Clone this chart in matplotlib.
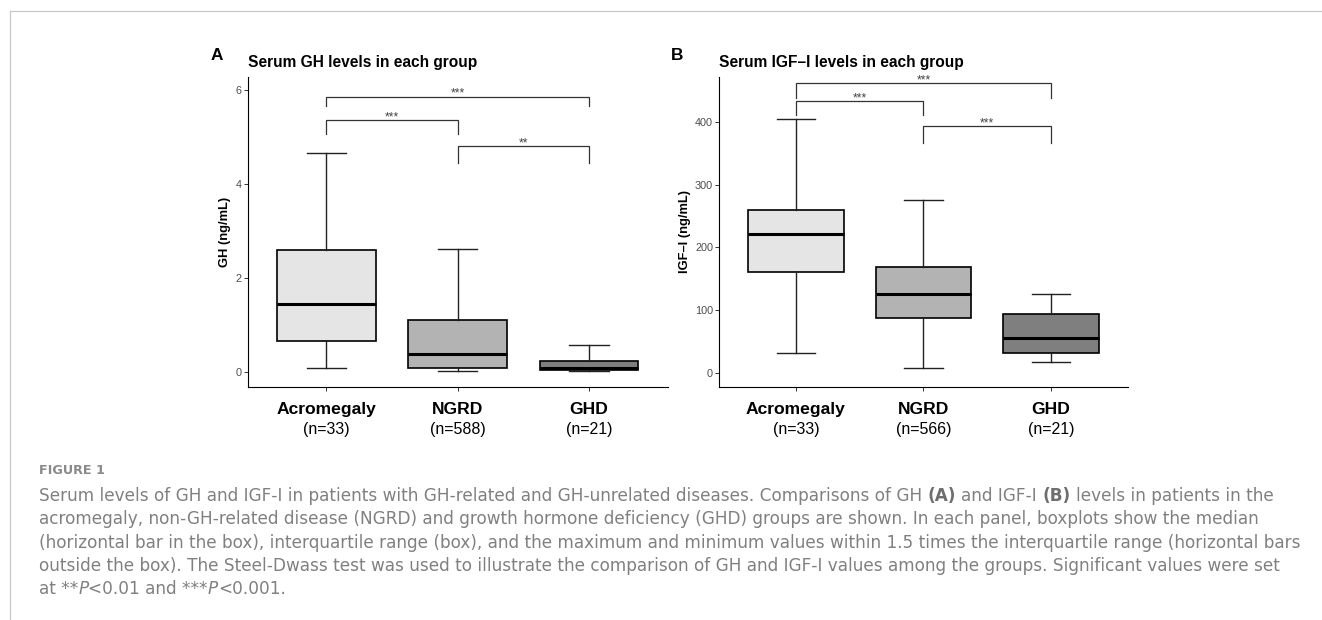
import matplotlib
matplotlib.use("Agg")
import matplotlib.pyplot as plt
from matplotlib.lines import Line2D
from matplotlib.transforms import blended_transform_factory

# ---- data ----
groups = ["Acromegaly", "NGRD", "GHD"]
gh_n = [33, 588, 21]
igf_n = [33, 566, 21]

gh_whislo = [0.09, 0.015, 0.02]
gh_q1 = [0.67, 0.09, 0.035]
gh_med = [1.44, 0.38, 0.08]
gh_q3 = [2.59, 1.11, 0.24]
gh_whishi = [4.65, 2.62, 0.57]

igf_whislo = [32, 7, 17]
igf_q1 = [160, 88, 31]
igf_med = [221, 125, 56]
igf_q3 = [259, 169, 94]
igf_whishi = [405, 276, 125]

# significance brackets: (group i, group j), bar height, tip height, label
gh_pairs = [(0, 2), (0, 1), (1, 2)]
gh_bar_y = [5.86, 5.36, 4.80]
gh_tip_y = [5.65, 5.06, 4.44]
gh_stars = ["***", "***", "**"]

igf_pairs = [(0, 2), (0, 1), (1, 2)]
igf_bar_y = [462, 433, 393]
igf_tip_y = [438, 411, 366]
igf_stars = ["***", "***", "***"]

fills = ["#E5E5E5", "#B3B3B3", "#7F7F7F"]

W, H = 1322, 620
FONT = "Liberation Sans"
CAP_FONT = "DejaVu Sans"

fig = plt.figure(figsize=(W / 100, H / 100), dpi=100)


def px(x, y):
    # pixel position (from top-left) -> figure fraction
    return x / W, 1 - y / H


def boxpanel(rect, whislo, q1, med, q3, whishi, counts, ylim, yticks,
             pairs, bar_y, tip_y, stars, ylabel, label_x):
    ax = fig.add_axes(rect)
    stats = []
    for i in range(len(groups)):
        stats.append(dict(whislo=whislo[i], q1=q1[i], med=med[i], q3=q3[i],
                          whishi=whishi[i], fliers=[], label=groups[i]))
    pos = list(range(1, len(groups) + 1))
    bp = ax.bxp(stats, positions=pos, widths=0.75, capwidths=0.3,
                patch_artist=True, showfliers=False,
                boxprops=dict(linewidth=1.2, edgecolor="black"),
                medianprops=dict(linewidth=2.2, color="black", solid_capstyle="butt"),
                whiskerprops=dict(linewidth=1.0, color="#222222"),
                capprops=dict(linewidth=1.0, color="#222222"))
    for patch, c in zip(bp["boxes"], fills):
        patch.set_facecolor(c)

    # brackets
    for (i, j), by, ty, s in zip(pairs, bar_y, tip_y, stars):
        xi, xj = pos[i], pos[j]
        ax.plot([xi, xi, xj, xj], [ty, by, by, ty], color="#333333",
                linewidth=0.9, solid_joinstyle="miter")
        ax.text((xi + xj) / 2, by, s, ha="center", va="baseline",
                fontsize=8.8, color="#444444", family=FONT)

    ax.set_xlim(0.4, 3.6)
    ax.set_ylim(*ylim)
    ax.set_yticks(yticks)
    ax.set_xticks(pos)
    ax.set_xticklabels([""] * len(groups))
    for side in ("top", "right"):
        ax.spines[side].set_visible(False)
    for side in ("left", "bottom"):
        ax.spines[side].set_linewidth(0.8)
        ax.spines[side].set_color("black")
    ax.tick_params(length=3, width=0.7, color="#333333", pad=1.5,
                   labelsize=7.8, labelcolor="#4D4D4D")
    for t in ax.get_yticklabels():
        t.set_family(FONT)
    ax.set_ylabel(ylabel, fontsize=9.3, fontweight="bold", family=FONT,
                  va="center")
    ax.yaxis.set_label_coords(label_x, 0.5)

    tr = blended_transform_factory(ax.transData, fig.transFigure)
    for p, g, n in zip(pos, groups, counts):
        ax.text(p, px(0, 414.3)[1], g, transform=tr, ha="center", va="baseline",
                fontsize=12.6, fontweight="bold", family=FONT)
        ax.text(p, px(0, 434)[1], f"(n={n})", transform=tr, ha="center",
                va="baseline", fontsize=11.5, family=FONT)
    return ax


axA = boxpanel([247.7 / W, 1 - 386.7 / H, 420 / W, 310 / H],
               gh_whislo, gh_q1, gh_med, gh_q3, gh_whishi, gh_n,
               (-0.313, 6.283), [0, 2, 4, 6],
               gh_pairs, gh_bar_y, gh_tip_y, gh_stars,
               "GH (ng/mL)", (225 - 247.7) / 420)
axB = boxpanel([719.3 / W, 1 - 386.7 / H, 408.4 / W, 310 / H],
               igf_whislo, igf_q1, igf_med, igf_q3, igf_whishi, igf_n,
               (-22.3, 472.3), [0, 100, 200, 300, 400],
               igf_pairs, igf_bar_y, igf_tip_y, igf_stars,
               "IGF\u2013I (ng/mL)", (685 - 719.3) / 408.4)

# panel letters and titles
fig.text(*px(210.7, 60), "A", fontsize=12.4, fontweight="bold", family=FONT,
         va="baseline", ha="left")
fig.text(*px(670.7, 59.5), "B", fontsize=12.4, fontweight="bold", family=FONT,
         va="baseline", ha="left")
fig.text(*px(247.7, 67.5), "Serum GH levels in each group", fontsize=11.2,
         fontweight="bold", family=FONT, va="baseline", ha="left")
fig.text(*px(719.3, 67.5), "Serum IGF\u2013I levels in each group", fontsize=11.2,
         fontweight="bold", family=FONT, va="baseline", ha="left")

# frame lines of the figure box
fig.add_artist(Line2D([9.7 / W, 1], [1 - 11 / H, 1 - 11 / H], color="#C8C8C8",
                      linewidth=0.9, transform=fig.transFigure))
fig.add_artist(Line2D([9.7 / W, 9.7 / W], [0, 1 - 11 / H], color="#C8C8C8",
                      linewidth=0.9, transform=fig.transFigure))

# caption
cap_ax = fig.add_axes([0, 0, 1, 1])
cap_ax.axis("off")
CAP_SIZE = 12.2
CAP_COLOR = "#808080"
SPACE_PT = 0.318 * CAP_SIZE

fig.text(*px(39, 474), "FIGURE 1", fontsize=9.2, fontweight="bold",
         family=CAP_FONT, color="#8A8A8A", va="baseline")

caption_lines = [
    [("Serum levels of GH and IGF-I in patients with GH-related and GH-unrelated "
      "diseases. Comparisons of GH", "r"), (" (A)", "b"), (" and IGF-I", "r"),
     (" (B)", "b"), (" levels in patients in the", "r")],
    [("acromegaly, non-GH-related disease (NGRD) and growth hormone deficiency "
      "(GHD) groups are shown. In each panel, boxplots show the median", "r")],
    [("(horizontal bar in the box), interquartile range (box), and the maximum and "
      "minimum values within 1.5 times the interquartile range (horizontal bars", "r")],
    [("outside the box). The Steel-Dwass test was used to illustrate the comparison "
      "of GH and IGF-I values among the groups. Significant values were set", "r")],
    [("at **", "r"), ("P", "i"), ("<0.01 and ***", "r"), ("P", "i"),
     ("<0.001.", "r")],
]
caption_base = [500.7, 524.1, 547.5, 570.9, 594.3]

for pieces, yb in zip(caption_lines, caption_base):
    prev = None
    for text, st in pieces:
        gap = SPACE_PT if text.startswith(" ") else 0
        text = text.lstrip()
        kw = dict(fontsize=CAP_SIZE, family=CAP_FONT, color=CAP_COLOR)
        if st == "b":
            kw.update(fontweight="bold", color="#6E6E6E")
        elif st == "i":
            kw.update(fontstyle="italic")
        if prev is None:
            prev = cap_ax.text(*px(39, yb), text, transform=fig.transFigure,
                               va="baseline", ha="left", **kw)
        else:
            prev = cap_ax.annotate(text, xy=(1, 0), xycoords=prev,
                                   xytext=(gap, 0), textcoords="offset points",
                                   va="bottom", ha="left", **kw)

fig.savefig("out.png", dpi=100)
